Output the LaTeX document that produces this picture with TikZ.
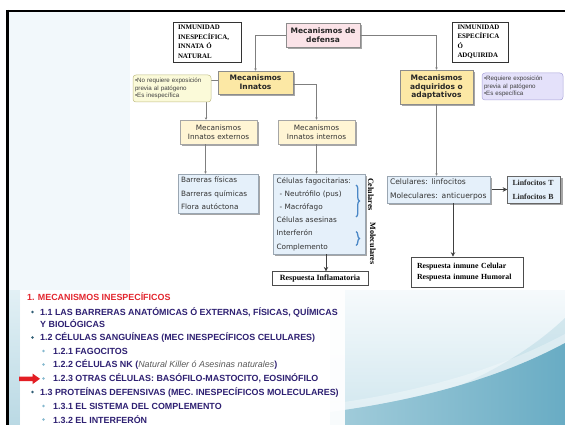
\documentclass[tikz,border=0pt]{standalone}
\usepackage{fontspec}
\setmainfont{DejaVu Sans}
\newfontfamily\boxfont{DejaVu Sans}
\newfontfamily\notefont{Liberation Sans}
\newfontfamily\headfont{Liberation Serif}
\newfontfamily\listfont{Liberation Sans}
\usetikzlibrary{arrows.meta,shadows,decorations.pathreplacing}

\definecolor{pinkfill}{HTML}{FBE3E8}
\definecolor{yelfill}{HTML}{FCE8A5}
\definecolor{paleyel}{HTML}{FFF5D4}
\definecolor{bluefill}{HTML}{E5F0FA}
\definecolor{boxedge}{HTML}{9AA6B2}
\definecolor{notey}{HTML}{FBFAD9}
\definecolor{noteyb}{HTML}{C2BE86}
\definecolor{notev}{HTML}{E4E1FA}
\definecolor{notevb}{HTML}{A9A4DA}
\definecolor{linegray}{HTML}{7F7F7F}
\definecolor{bracecol}{HTML}{4A87C6}
\definecolor{navy}{HTML}{2E2072}
\definecolor{redtitle}{HTML}{E3262E}
\definecolor{arrowred}{HTML}{E31E24}
\definecolor{slidebg}{HTML}{F2F8FB}
\definecolor{bulletdark}{HTML}{2F5D74}
\definecolor{bulletlight}{HTML}{86B9CF}
\definecolor{swooshtop}{HTML}{F6FAFC}
\definecolor{swooshlight}{HTML}{CFE6EE}
\definecolor{swooshmid}{HTML}{A3CDDB}
\definecolor{swooshdark}{HTML}{69ACC4}

\tikzset{
  shadowed/.style={drop shadow={shadow xshift=2pt,shadow yshift=-2pt,fill=black!35,opacity=1}},
  boxbase/.style={draw=boxedge, line width=0.5pt, inner sep=0pt},
  headbox/.style={boxbase, fill=yelfill, draw=black!45, shadowed, align=center,
    font=\boxfont\bfseries\fontsize{7.5}{8.6}\selectfont, text=black!85},
  subbox/.style={boxbase, fill=paleyel, draw=black!35, shadowed, align=center,
    font=\boxfont\fontsize{7.3}{8.6}\selectfont, text=black!80},
  listbox/.style={boxbase, fill=bluefill, shadowed, align=left,
    font=\boxfont\fontsize{7.3}{13.4}\selectfont, text=black!80},
  titlebox/.style={draw=black!80, line width=0.6pt, fill=white, inner ysep=0pt, align=left,
    font=\headfont\bfseries\fontsize{6.9}{9.5}\selectfont},
  notebox/.style={rounded corners=3pt, line width=0.5pt, inner ysep=0pt, inner xsep=2pt, align=left,
    font=\notefont\fontsize{6.2}{7.7}\selectfont, text=black!75},
  resbox/.style={draw=black!70, line width=0.6pt, fill=white, inner ysep=0pt, align=left,
    font=\headfont\bfseries\fontsize{7.8}{11.5}\selectfont},
  conn/.style={draw=linegray, line width=0.7pt},
  smalltip/.style={-{Stealth[length=2.4pt,width=2.4pt]}},
  bigtip/.style={-{Stealth[length=4.5pt,width=4.5pt]}, draw=black!75, line width=0.9pt},
  bracket/.style={draw=bracecol, line width=1.3pt, decorate,
    decoration={brace, amplitude=3.5pt}},
  sidelabel/.style={rotate=-90, inner sep=0pt, font=\headfont\bfseries\fontsize{8.1}{9}\selectfont},
  listline/.style={anchor=west, inner sep=0pt, text=navy,
    font=\listfont\bfseries\fontsize{8.9}{10}\selectfont},
}

\begin{document}
\begin{tikzpicture}[x=1pt,y=-1pt]
  % slide background
  \useasboundingbox (0,0) rectangle (565,425);
  \fill[white] (0,0) rectangle (565,425);
  \fill[slidebg] (8,12) rectangle (130,290);
  \fill[white] (130,12) rectangle (565,290);

  % lower part of the slide: swoosh on the right, light strip on the left
  \shade[top color=swooshtop, bottom color=swooshlight] (330,290) rectangle (565,425);
  \fill[swooshmid, opacity=0.35]
    (330,425) .. controls (430,405) and (510,370) .. (565,318) -- (565,425) -- cycle;
  \fill[white, opacity=0.3]
    (330,404) .. controls (420,392) and (500,369) .. (565,334) -- (565,343)
    .. controls (500,378) and (420,400) .. (330,412) -- cycle;
  \shade[left color=swooshmid, right color=swooshdark]
    (330,412) .. controls (420,400) and (500,378) .. (565,343) -- (565,425) -- (330,425) -- cycle;
  \shade[top color={rgb,255:red,226;green,240;blue,245}, bottom color={rgb,255:red,186;green,217;blue,228}]
    (8,290) rectangle (20,425);
  \fill[white, opacity=0.93] (20,290) rectangle (345,425);

  % slide frame
  \draw[black, line width=2pt] (6,11) -- (565,11);
  \draw[black, line width=2.6pt] (7.3,10) -- (7.3,425);

  % ---------- concept map ----------
  \node[headbox, fill=pinkfill, minimum width=74pt, minimum height=24pt] (defensa) at (323,35)
    {Mecanismos de\\defensa};
  \node[titlebox, text width=58pt, inner xsep=5pt, minimum height=40pt] (inesp) at (207,42)
    {INMUNIDAD\\INESPECÍFICA,\\INNATA Ó\\NATURAL};
  \node[titlebox, text width=46pt, inner xsep=5pt, minimum height=40pt] (esp) at (480.5,42)
    {INMUNIDAD\\ESPECÍFICA\\Ó\\ADQUIRIDA};

  \node[headbox, minimum width=75pt, minimum height=23pt] (innatos) at (255.5,82.5)
    {Mecanismos\\Innatos};
  \node[headbox, minimum width=73pt, minimum height=34pt] (adq) at (436.5,87)
    {Mecanismos\\adquiridos o\\adaptativos};

  \node[subbox, minimum width=77pt, minimum height=24pt] (externos) at (218.5,132)
    {Mecanismos\\Innatos externos};
  \node[subbox, minimum width=77pt, minimum height=24pt] (internos) at (316.5,132)
    {Mecanismos\\Innatos internos};

  \node[listbox, text width=74pt, inner xsep=3pt, minimum height=39pt] (barreras) at (218,193.5)
    {Barreras físicas\\Barreras químicas\\Flora autóctona};
  \node[listbox, text width=85pt, inner xsep=3.5pt, minimum height=80pt, font=\boxfont\fontsize{7.3}{13.2}\selectfont] (cells) at (319,214)
    {Células fagocitarias:\\\hspace{3pt}- Neutrófilo (pus)\\\hspace{3pt}- Macrófago\\Células asesinas\\Interferón\\Complemento};
  \node[listbox, text width=97pt, inner xsep=3pt, minimum height=27pt, font=\boxfont\fontsize{7.6}{14}\selectfont] (linf) at (438.5,189.5)
    {Celulares: linfocitos\\Moleculares: anticuerpos};
  \node[listbox, text width=43pt, inner xsep=5pt, minimum height=27pt, draw=black!60,
    font=\headfont\bfseries\fontsize{7.8}{14}\selectfont, text=black!85] (linfTB) at (534,189.5)
    {Linfocitos T\\Linfocitos B};

  \node[resbox, align=center, inner xsep=0pt, minimum width=96pt, minimum height=13.5pt,
    font=\headfont\bfseries\fontsize{8}{9}\selectfont] (inflam) at (320,278.5)
    {Respuesta Inflamatoria};
  \node[resbox, text width=100pt, inner xsep=6pt, minimum height=30pt] (resp) at (467,272)
    {Respuesta inmune Celular\\Respuesta inmune Humoral};

  % connectors (drawn before the notes, which sit on top of them)
  \draw[conn, smalltip] (defensa.west) -| (innatos.north);
  \draw[conn, smalltip] (defensa.east) -| (adq.north);
  \draw[conn, smalltip] ([yshift=-2pt]innatos.east) -| (internos.north);
  \draw[conn, smalltip] ([yshift=2pt]innatos.west) -| ([xshift=-12.5pt]externos.north);
  \draw[conn, smalltip] ([xshift=-13pt]externos.south) -- ([xshift=-13pt]externos.south |- barreras.north);
  \draw[conn, smalltip] (internos.south) -- (internos.south |- cells.north);
  \draw[conn, smalltip] (adq.south) -- (adq.south |- linf.north);
  \draw[bigtip] ([xshift=7pt]cells.south) -- ([xshift=7pt]cells.south |- inflam.north);
  \draw[bigtip] ([xshift=14.5pt]linf.south) -- ([xshift=14.5pt]linf.south |- resp.north);
  \draw[bigtip, line width=0.7pt] ([xshift=1.5pt]linf.east) -- (linfTB.west);

  % side notes
  \node[notebox, fill=notey, draw=noteyb, text width=74pt, minimum height=27pt] (noteL) at (172,88.5)
    {•No requiere exposición\\previa al patógeno\\•Es inespecífica};
  \node[notebox, fill=notev, draw=notevb, text width=77pt, minimum height=27pt] (noteR) at (522.5,86.5)
    {•Requiere exposición\\previa al patógeno\\•Es específica};

  % groupings inside the internal-mechanisms box
  \draw[bracket] (356,185) -- (356,217);
  \draw[bracket] (356,231.5) -- (356,245.5);
  \node[sidelabel] (celul) at (371,194.5) {Celulares};
  \node[sidelabel] (molec) at (373,243.5) {Moleculares};

  % ---------- outline of the lesson ----------
  \node[listline, text=redtitle] (l0) at (27,297) {1. MECANISMOS INESPECÍFICOS};

  \fill[bulletdark] (32.5,312) circle (1.4pt);
  \node[listline] (l1) at (40,312) {1.1 LAS BARRERAS ANATÓMICAS Ó EXTERNAS, FÍSICAS, QUÍMICAS};
  \node[listline] (l1b) at (40,324) {Y BIOLÓGICAS};

  \fill[bulletdark] (32.5,337.5) circle (1.4pt);
  \node[listline] (l2) at (40,337.5) {1.2 CÉLULAS SANGUÍNEAS (MEC INESPECÍFICOS CELULARES)};

  \fill[bulletlight] (43.5,351) circle (1.3pt);
  \node[listline] (l21) at (53,351) {1.2.1 FAGOCITOS};
  \fill[bulletlight] (43.5,364.5) circle (1.3pt);
  \node[listline] (l22) at (53,364.5) {1.2.2 CÉLULAS NK ({\mdseries\itshape\color{black!65}Natural Killer ó Asesinas naturales})};
  \fill[bulletlight] (43.5,378.5) circle (1.3pt);
  \node[listline] (l23) at (53,378.5) {1.2.3 OTRAS CÉLULAS: BASÓFILO-MASTOCITO, EOSINÓFILO};

  % pointer to the current item
  \fill[arrowred] (19,376.5) -- (32.5,376.5) -- (32.5,373.5) -- (40,378.8) -- (32.5,384.2)
    -- (32.5,381.2) -- (19,381.2) -- cycle;

  \fill[bulletdark] (32.5,392) circle (1.4pt);
  \node[listline] (l3) at (40,392) {1.3 PROTEÍNAS DEFENSIVAS (MEC. INESPECÍFICOS MOLECULARES)};
  \fill[bulletlight] (43.5,406) circle (1.3pt);
  \node[listline] (l31) at (53,406) {1.3.1 EL SISTEMA DEL COMPLEMENTO};
  \fill[bulletlight] (43.5,419.5) circle (1.3pt);
  \node[listline] (l32) at (53,419.5) {1.3.2 EL INTERFERÓN};
\end{tikzpicture}
\end{document}
